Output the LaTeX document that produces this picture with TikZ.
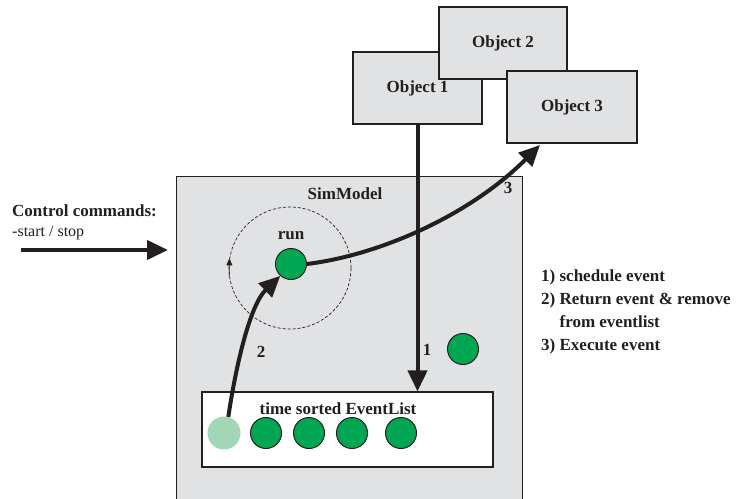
\documentclass[tikz,border=0pt]{standalone}
\usepackage{fontspec}
\setmainfont{Liberation Serif}
\usetikzlibrary{arrows.meta}
\definecolor{boxgray}{RGB}{225,226,228}
\definecolor{evgreen}{RGB}{0,166,81}
\definecolor{evlight}{RGB}{163,214,182}
\definecolor{ink}{RGB}{35,31,32}
\begin{document}
\begin{tikzpicture}[x=1pt,y=-1pt,
  every node/.style={text=ink},
  lbl/.style={font=\bfseries\fontsize{17}{20}\selectfont, inner sep=0pt},
  box/.style={draw=ink, line width=1.1pt, fill=boxgray},
  obj/.style={box, minimum height=72pt, font=\bfseries\fontsize{17}{20}\selectfont},
  ev/.style={circle, draw=ink, line width=1pt, fill=evgreen, minimum size=31pt, inner sep=0pt},
  bigarrow/.style={draw=ink, line width=4pt, -{Triangle[length=21pt,width=19pt]}}
]
\useasboundingbox (0,0) rectangle (738,498);
\clip (0,0) rectangle (738,498);
% objects
\node[obj, minimum width=129pt] (obj1) at (417.5,88) {Object 1};
\node[obj, minimum width=128pt] (obj2) at (503,43) {Object 2};
\node[obj, minimum width=130pt] (obj3) at (572,107) {Object 3};
% SimModel
\node[box, minimum width=346pt, minimum height=340pt, anchor=north west] (sim) at (176,176) {};
\node[lbl] (simlbl) at (345,194) {SimModel};
% event list
\node[draw=ink, line width=1.1pt, fill=white, minimum width=291pt, minimum height=75pt] (evlist) at (347.5,429.5) {};
\node[lbl] (evlbl) at (338,409) {time sorted EventList};
\node[circle, fill=evlight, minimum size=33pt, inner sep=0pt] (ev0) at (224,433) {};
\node[ev] (ev1) at (266,433) {};
\node[ev] (ev2) at (309,433) {};
\node[ev] (ev3) at (352,433) {};
\node[ev] (ev4) at (401,433) {};
% run
\node[circle, draw=ink, densely dashed, line width=0.7pt, minimum size=122pt, inner sep=0pt] (loop) at (290,268) {};
\draw[draw=ink, line width=0.7pt, -{Triangle[length=7pt,width=6pt]}] (loop.188) -- (loop.171);
\node[ev] (run) at (291,264) {};
\node[lbl] (runlbl) at (291,236) {run};
\node[ev] (evx) at (463,349) {};
% control commands
\node[lbl, anchor=west] (ctrl) at (12,211) {Control commands:};
\node[anchor=west, inner sep=0pt, font=\fontsize{16}{19}\selectfont] (ss) at (12,233) {-start / stop};
\coordinate (cstart) at (21,250);
\coordinate (cend) at (168,250);
\draw[bigarrow] (cstart) -- (cend);
% connectors
\coordinate (tip3) at (540,145);
\draw[bigarrow] (run.east) .. controls (380,255) and (470,215) .. (tip3);
\draw[bigarrow] (obj1.south) -- (obj1.south |- evlist.north);
\draw[bigarrow] (ev0.75) .. controls (236,365) and (250,305) .. (run.228);
% numbers
\node[lbl] (n1) at (427,350) {1};
\node[lbl] (n2) at (261,352) {2};
\node[lbl] (n3) at (508,188) {3};
% legend
\node[lbl, anchor=west, align=left, font=\bfseries\fontsize{17}{23}\selectfont] (legend) at (541,311.5)
  {1) schedule event\\2) Return event \& remove\\\phantom{2) }from eventlist\\3) Execute event};
\end{tikzpicture}
\end{document}
